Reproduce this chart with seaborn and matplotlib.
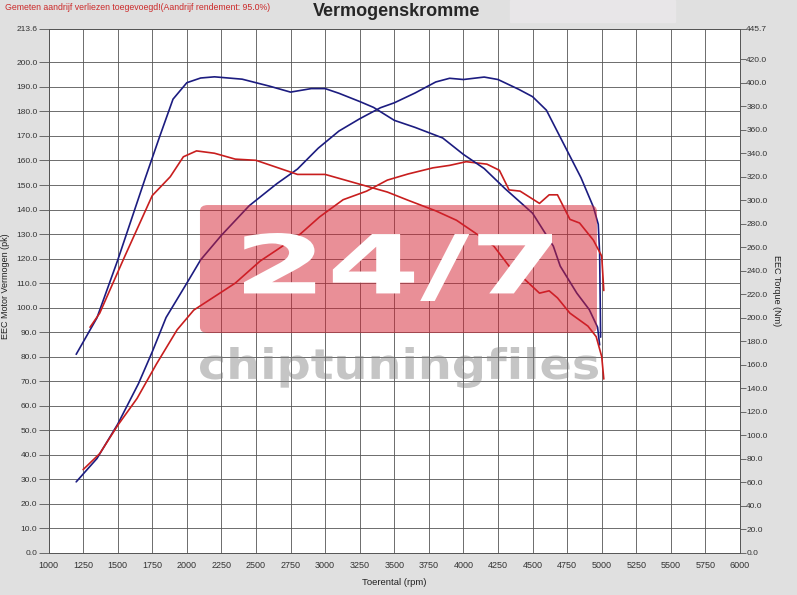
import numpy as np
import pandas as pd
import seaborn as sns
import matplotlib.pyplot as plt
from matplotlib.patches import FancyBboxPatch, Rectangle, PathPatch
from matplotlib.textpath import TextPath
from matplotlib.font_manager import FontProperties
from matplotlib.transforms import Affine2D, IdentityTransform

# 数据
# 蓝色 = 改装后, 红色 = 原厂
rpm_pow_tuned = [1200, 1350, 1500, 1650, 1750, 1850, 2000, 2100, 2250, 2450, 2650, 2800,
                 2950, 3100, 3250, 3400, 3500, 3650, 3800, 3900, 4000, 4150, 4250, 4400,
                 4500, 4600, 4750, 4850, 4940, 4975, 4985, 4992]
pow_tuned = [29, 38.5, 52.5, 69, 82, 96, 110, 119.5, 129.5, 141.5, 150.5, 156.5,
             165, 172, 177, 181.5, 183.5, 187.5, 192, 193.5, 193, 194, 193, 189,
             186, 180.5, 164, 153, 141, 134, 122, 88]

rpm_trq_tuned = [1200, 1350, 1500, 1700, 1800, 1900, 2000, 2100, 2200, 2400, 2600, 2750,
                 2900, 3000, 3100, 3250, 3350, 3500, 3650, 3850, 4000, 4150, 4300, 4500,
                 4650, 4700, 4820, 4910, 4970, 4985]
trq_tuned = [169, 200, 249, 319, 353, 386, 400, 404, 405, 403, 397, 392,
             395, 395, 391, 384, 379, 368, 362, 353, 339, 327, 310, 289,
             261, 244, 221, 207, 192, 177]

rpm_pow_stock = [1250, 1370, 1500, 1640, 1780, 1930, 2050, 2200, 2350, 2530, 2650, 2820,
                 2960, 3130, 3300, 3450, 3600, 3780, 3900, 4020, 4170, 4260, 4330, 4410,
                 4550, 4620, 4680, 4770, 4840, 4940, 5000, 5015]
pow_stock = [34, 40.5, 52, 63, 77, 91, 99, 104.5, 110, 119, 123.5, 130,
             137, 144, 147.5, 152, 154.5, 157, 158, 159.5, 158.5, 156, 148, 147.5,
             142.5, 146, 146, 136, 134.5, 127.5, 121, 107]

rpm_trq_stock = [1300, 1370, 1550, 1750, 1880, 1975, 2070, 2200, 2350, 2500, 2650, 2800,
                 3000, 3150, 3300, 3450, 3600, 3800, 3950, 4100, 4220, 4330, 4450, 4550,
                 4620, 4680, 4770, 4900, 4960, 5000, 5015]
trq_stock = [192, 204, 252, 304, 320, 337, 342, 340, 335, 334, 328, 322,
             322, 317, 312, 307, 300, 291, 283, 271, 261, 244, 232, 221,
             223, 217, 204, 193, 184, 167, 148]

x_ticks = list(range(1000, 6001, 250))
left_ticks = list(np.arange(0, 201, 10)) + [213.6]
right_ticks = list(range(0, 421, 20)) + [445.7]

BLUE = '#1c1c80'
RED = '#c81e1e'
H = 595  # 画布高度 (像素)

sns.set_style("white")
plt.rcParams['font.family'] = ['Liberation Sans', 'DejaVu Sans']


def fit_text(fig, s, x0, x1, y_top, y_bot, **kw):
    # 把文字拉伸到指定的像素框里 (水印用)
    tp = TextPath((0, 0), s, size=100, prop=FontProperties(family='DejaVu Sans', weight='bold'))
    ext = tp.get_extents()
    sx = (x1 - x0) / ext.width
    sy = (y_bot - y_top) / ext.height
    tr = Affine2D().translate(-ext.x0, -ext.y0).scale(sx, sy).translate(x0, H - y_bot)
    p = PathPatch(tr.transform_path(tp), transform=IdentityTransform(), **kw)
    fig.patches.append(p)


# 画布
fig = plt.figure(figsize=(7.97, 5.95), dpi=100, facecolor='#e0e0e0')
ax = fig.add_axes([0.0609, 0.0706, 0.8676, 0.8807])
ax.set_facecolor('white')
ax2 = ax.twinx()

# 功率 (左轴) 与扭矩 (右轴)
sns.lineplot(x=rpm_pow_tuned, y=pow_tuned, ax=ax, color=BLUE, lw=1.2, estimator=None)
sns.lineplot(x=rpm_pow_stock, y=pow_stock, ax=ax, color=RED, lw=1.2, estimator=None)
sns.lineplot(x=rpm_trq_tuned, y=trq_tuned, ax=ax2, color=BLUE, lw=1.2, estimator=None)
sns.lineplot(x=rpm_trq_stock, y=trq_stock, ax=ax2, color=RED, lw=1.2, estimator=None)

ax.set_xlim(1000, 6000)
ax.set_ylim(0, 213.6)
ax2.set_ylim(0, 445.7)

ax.set_xticks(x_ticks)
ax.set_xticklabels([str(t) for t in x_ticks])
ax.set_yticks(left_ticks)
ax.set_yticklabels(['%.1f' % t for t in left_ticks])
ax2.set_yticks(right_ticks)
ax2.set_yticklabels(['%.1f' % t for t in right_ticks])

ax.grid(True, color='#555555', lw=0.6)
ax2.grid(False)

ax.tick_params(axis='y', length=7, width=0.6, pad=1, labelsize=6, color='#555555', labelcolor='#333333')
ax.tick_params(axis='x', length=4, width=0.6, pad=2, labelsize=6.5, color='#555555', labelcolor='#333333')
ax2.tick_params(axis='y', length=4, width=0.6, pad=0.5, labelsize=6, color='#555555', labelcolor='#333333')

for a in (ax, ax2):
    for s in a.spines.values():
        s.set_color('#555555')
        s.set_linewidth(0.6)

ax.set_xlabel('Toerental (rpm)', fontsize=6.8, color='#222222')
ax.xaxis.set_label_coords(0.5, -0.047)
ax.set_ylabel('EEC Motor Vermogen (pk)', fontsize=6.5, color='#222222')
ax.yaxis.set_label_coords(-0.056, 0.51)
ax2.set_ylabel('EEC Torque (Nm)', fontsize=6.5, color='#222222', rotation=270, va='center')
ax2.yaxis.set_label_coords(1.053, 0.5)

# 标题与说明
fig.patches.append(Rectangle((0.64, 0.963), 0.207, 0.037, transform=fig.transFigure,
                             color='#e8e6e8', zorder=0))
fig.text(0.498, 0.9815, 'Vermogenskromme', fontsize=13, fontweight='bold', ha='center', va='center')
fig.text(0.006, 0.9866, 'Gemeten aandrijf verliezen toegevoegd!(Aandrijf rendement: 95.0%)',
         fontsize=6.3, color='#cc2a2a', va='center')

# 水印
fig.patches.append(FancyBboxPatch((0.2509, 0.4403), 0.4981, 0.2151, transform=fig.transFigure,
                                  boxstyle='round,pad=0,rounding_size=0.01',
                                  facecolor='#d42030', edgecolor='none', alpha=0.5, zorder=5))
fit_text(fig, '24/7', 244, 552, 233, 301, facecolor='white', edgecolor='none', zorder=6)
fit_text(fig, 'chiptuningfiles', 200, 598, 347, 388, facecolor='#808080', edgecolor='none',
         alpha=0.45, zorder=6)

plt.savefig('out.png', dpi=100, facecolor=fig.get_facecolor())
